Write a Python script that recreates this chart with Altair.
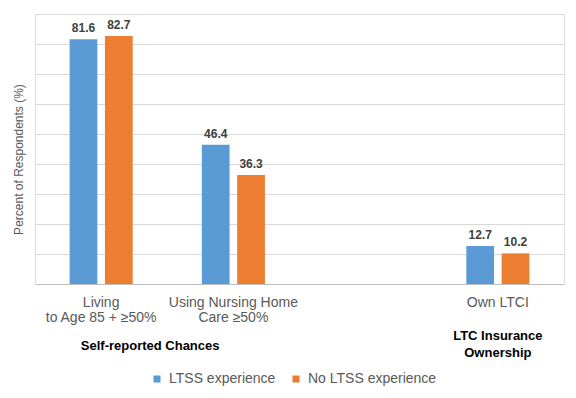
import altair as alt
import pandas as pd

categories = ["Living\nto Age 85 + ≥50%", "Using Nursing Home\nCare ≥50%", " ", "Own LTCI"]
bar_categories = ["Living\nto Age 85 + ≥50%", "Using Nursing Home\nCare ≥50%", "Own LTCI"]
series = ["LTSS experience", "No LTSS experience"]
ltss = [81.6, 46.4, 12.7]
no_ltss = [82.7, 36.3, 10.2]
grid_values = [10, 20, 30, 40, 50, 60, 70, 80, 90]
colors = ["#5B9BD5", "#ED7D31"]
group_labels = ["Self-reported Chances", "LTC Insurance\nOwnership"]
group_anchor = ["Living\nto Age 85 + ≥50%", "Own LTCI"]

rows = []
for c, a, b in zip(bar_categories, ltss, no_ltss):
    rows.append({"cat": c, "series": series[0], "value": a, "label": f"{a:.1f}"})
    rows.append({"cat": c, "series": series[1], "value": b, "label": f"{b:.1f}"})
df = pd.DataFrame(rows)

FONT = "Liberation Sans"
W, H = 529, 270

xscale = alt.Scale(domain=categories, paddingInner=0.523, paddingOuter=0.2617)
xoff = alt.Scale(domain=series, paddingInner=0.215, paddingOuter=0)
yscale = alt.Scale(domain=[0, 90], nice=False)

grid = alt.Chart(pd.DataFrame({"g": grid_values})).mark_rule(
    color="#d9d9d9", strokeWidth=1, yOffset=0.5
).encode(y=alt.Y("g:Q", scale=yscale))

base = alt.Chart(df).encode(
    x=alt.X("cat:N", scale=xscale, sort=categories, title=None,
            axis=alt.Axis(labelExpr="split(datum.value, '\\n')", labelAngle=0,
                          labelFont=FONT, labelFontSize=14, labelColor="#595959",
                          labelLineHeight=15, labelPadding=11, ticks=False,
                          domainColor="#bfbfbf", domainWidth=1, grid=False)),
    xOffset=alt.XOffset("series:N", scale=xoff, sort=series),
)

bars = base.mark_bar().encode(
    y=alt.Y("value:Q", scale=yscale,
            title="Percent of Respondents (%)",
            axis=alt.Axis(labels=False, ticks=False, domain=False, grid=False,
                          titleFont=FONT, titleFontSize=12, titleColor="#595959",
                          titleFontWeight="normal", titlePadding=10, titleY=145)),
    color=alt.Color("series:N", scale=alt.Scale(domain=series, range=colors),
                    sort=series,
                    legend=alt.Legend(title=None, orient="none", direction="horizontal",
                                      legendX=115, legendY=358, symbolType="square",
                                      symbolSize=49, labelFont=FONT, labelFontSize=14,
                                      labelColor="#595959", columnPadding=13,
                                      labelOffset=5, symbolStrokeWidth=0)),
)

labels = base.mark_text(baseline="bottom", dy=-4, font=FONT, fontSize=12,
                        fontWeight="bold", color="#404040").encode(
    y=alt.Y("value:Q", scale=yscale),
    text="label:N",
)

gdf = pd.DataFrame({"cat": group_anchor, "text": group_labels})
groups = alt.Chart(gdf).transform_calculate(
    t="split(datum.text, '\\n')"
)

g1 = groups.transform_filter(alt.datum.cat == group_anchor[0]).mark_text(
    baseline="middle", font=FONT, fontSize=13, fontWeight="bold", color="#000000",
    lineHeight=17, dx=49).encode(
    x=alt.X("cat:N", scale=xscale, sort=categories),
    y=alt.value(332),
    text="t:N",
)
g2 = groups.transform_filter(alt.datum.cat == group_anchor[1]).mark_text(
    baseline="middle", font=FONT, fontSize=13, fontWeight="bold", color="#000000",
    lineHeight=17).encode(
    x=alt.X("cat:N", scale=xscale, sort=categories),
    y=alt.value(322),
    text="t:N",
)

chart = alt.layer(grid, bars, labels, g1, g2).properties(
    width=W, height=H,
    autosize=alt.AutoSizeParams(type="none"),
    padding={"left": 27, "top": 6, "right": 4, "bottom": 106},
).configure_view(stroke=None).configure(background="white")

chart.save("out.html", embed_options={"renderer": "svg", "actions": False})
